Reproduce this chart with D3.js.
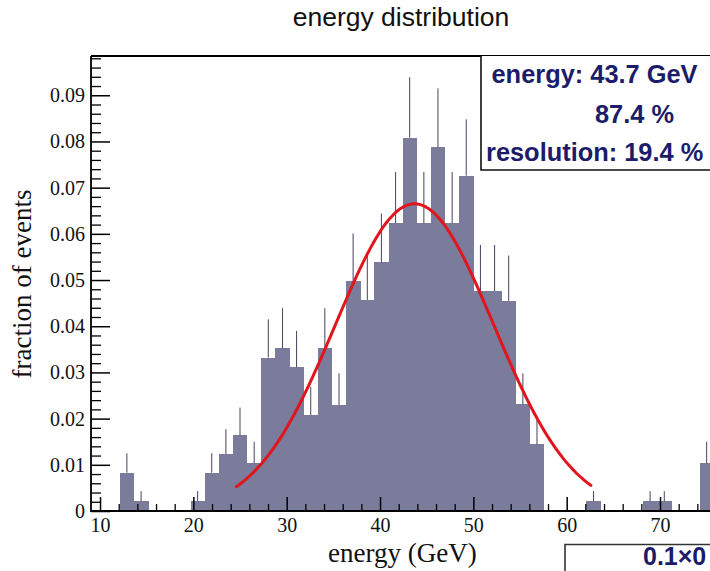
<!DOCTYPE html>
<html><head><meta charset="utf-8">
<script src="https://cdn.jsdelivr.net/npm/d3@7"></script>
<style>body{margin:0;background:#fff}svg{display:block}</style>
</head><body>
<svg id="c" width="710" height="571"></svg>
<script>
// ---- data ----
const binLow = [12.12, 13.64, 19.70, 21.21, 22.73, 24.24, 25.76, 27.27, 28.79, 30.30,
                31.82, 33.33, 34.85, 36.36, 37.88, 39.39, 40.91, 42.42, 43.94, 45.45,
                46.97, 48.48, 50.00, 51.52, 53.03, 54.55, 56.06, 62.12, 68.18, 69.70, 74.24];
const binWidth = 1.515;
const fraction = [0.0083, 0.0021, 0.0021, 0.0083, 0.0123, 0.0164, 0.0103, 0.0332, 0.0352, 0.0311,
                  0.0208, 0.0352, 0.0229, 0.0497, 0.0457, 0.0538, 0.0623, 0.0808, 0.0623, 0.0787,
                  0.0623, 0.0726, 0.0476, 0.0476, 0.0455, 0.0231, 0.0144, 0.0021, 0.0021, 0.0021, 0.0103];
const errUp = [0.0042, 0.0022, 0.0022, 0.0042, 0.0054, 0.0060, 0.0047, 0.0083, 0.0087, 0.0079,
               0.0061, 0.0087, 0.0069, 0.0104, 0.0095, 0.0106, 0.0111, 0.0131, 0.0111, 0.0128,
               0.0111, 0.0122, 0.0100, 0.0100, 0.0098, 0.0067, 0.0053, 0.0022, 0.0022, 0.0022, 0.0047];
const yTicks = [0, 0.01, 0.02, 0.03, 0.04, 0.05, 0.06, 0.07, 0.08, 0.09];
const xTicks = [10, 20, 30, 40, 50, 60, 70];
const fitMean = 43.7;        // GeV
const fitResolution = 0.194; // sigma / mean
const fitPeak = 0.0665;
const fitRange = [24.6, 62.7];
const statsLines = ["energy: 43.7 GeV", "87.4 %", "resolution: 19.4 %"];
const titleText = "energy distribution";
const xTitle = "energy (GeV)";
const yTitle = "fraction of events";
const cornerText = "0.1\u00d70";

// ---- drawing ----
const W = 710, H = 571;
const svg = d3.select("#c");
const pLeft = 91, pTop = 56, pBottom = 511;
const x = d3.scaleLinear().domain([9, 80]).range([90.7, 90.7 + 71 * 9.333]);
const y = d3.scaleLinear().domain([0, 0.0985]).range([pBottom, pTop]);

svg.append("defs").append("clipPath").attr("id", "plot")
  .append("rect").attr("x", pLeft).attr("y", pTop).attr("width", W - pLeft).attr("height", pBottom - pTop);

const g = svg.append("g").attr("clip-path", "url(#plot)");

const bars = binLow.map((lo, i) => ({lo, v: fraction[i], e: errUp[i]}));

g.selectAll("rect.bar").data(bars).join("rect")
  .attr("class", "bar")
  .attr("x", d => x(d.lo))
  .attr("width", d => x(d.lo + binWidth) - x(d.lo) + 0.4)
  .attr("y", d => y(d.v))
  .attr("height", d => y(0) - y(d.v))
  .attr("fill", "#7b7b9b")
  .attr("shape-rendering", "crispEdges");

g.selectAll("line.err").data(bars).join("line")
  .attr("class", "err")
  .attr("x1", d => x(d.lo + binWidth / 2)).attr("x2", d => x(d.lo + binWidth / 2))
  .attr("y1", d => y(d.v)).attr("y2", d => y(d.v + d.e))
  .attr("stroke", "#44445e").attr("stroke-width", 1);

// fit curve (Gaussian defined by the fitted parameters shown in the stats box)
const sigma = fitMean * fitResolution;
const fitPts = d3.range(fitRange[0], fitRange[1] + 0.001, 0.2)
  .map(e => [e, fitPeak * Math.exp(-((e - fitMean) ** 2) / (2 * sigma * sigma))]);
g.append("path").datum(fitPts)
  .attr("d", d3.line().x(d => x(d[0])).y(d => y(d[1])).curve(d3.curveBasis))
  .attr("fill", "none").attr("stroke", "#e2141c").attr("stroke-width", 3)
  .attr("stroke-linecap", "round");

// axes
const serif = "'Liberation Serif', 'Times New Roman', serif";
const sans = "'Liberation Sans', Arial, Helvetica, sans-serif";

const yMinor = d3.range(0, 0.0985, 0.002).filter(v => Math.abs(v * 100 - Math.round(v * 100)) > 1e-6);
svg.append("g").attr("transform", `translate(${pLeft},0)`)
  .call(d3.axisLeft(y).tickValues(yMinor).tickSizeInner(-10).tickSizeOuter(0).tickFormat(""))
  .call(a => a.select(".domain").remove())
  .call(a => a.selectAll("line").attr("stroke", "#000").attr("stroke-width", 1.3));
svg.append("g").attr("transform", `translate(${pLeft},0)`)
  .call(d3.axisLeft(y).tickValues(yTicks).tickSizeInner(-19).tickSizeOuter(0).tickPadding(6)
        .tickFormat(d => d === 0 ? "0" : d.toFixed(2)))
  .call(a => a.select(".domain").remove())
  .call(a => a.selectAll("line").attr("stroke", "#000").attr("stroke-width", 1.5))
  .call(a => a.selectAll("text").attr("font-family", serif).attr("font-size", 20).attr("fill", "#111"));

const xMinor = d3.range(10, 76, 2).filter(v => v % 10 !== 0);
svg.append("g").attr("transform", `translate(0,${pBottom})`)
  .call(d3.axisBottom(x).tickValues(xMinor).tickSizeInner(-7).tickSizeOuter(0).tickFormat(""))
  .call(a => a.select(".domain").remove())
  .call(a => a.selectAll("line").attr("stroke", "#000").attr("stroke-width", 1.3));
svg.append("g").attr("transform", `translate(0,${pBottom})`)
  .call(d3.axisBottom(x).tickValues(xTicks).tickSizeInner(-14).tickSizeOuter(0).tickPadding(7))
  .call(a => a.select(".domain").remove())
  .call(a => a.selectAll("line").attr("stroke", "#000").attr("stroke-width", 1.5))
  .call(a => a.selectAll("text").attr("font-family", serif).attr("font-size", 20).attr("fill", "#111"));

// frame lines
svg.append("path").attr("d", `M${pLeft},${pTop}H${W}M${pLeft},${pTop}V${pBottom}H${W}`)
  .attr("fill", "none").attr("stroke", "#000").attr("stroke-width", 1.8);

// titles
svg.append("text").attr("x", 401).attr("y", 26).attr("text-anchor", "middle")
  .attr("font-family", sans).attr("font-size", 26.5).attr("fill", "#111").text(titleText);
svg.append("text").attr("x", 328).attr("y", 562)
  .attr("font-family", serif).attr("font-size", 27).attr("fill", "#111").text(xTitle);
svg.append("text").attr("transform", "translate(31,284) rotate(-90)").attr("text-anchor", "middle")
  .attr("font-family", serif).attr("font-size", 27).attr("fill", "#111").text(yTitle);

// stats box
svg.append("rect").attr("x", 481).attr("y", pTop).attr("width", W - 481).attr("height", 114)
  .attr("fill", "#fff");
svg.append("path").attr("d", `M481,${pTop}V170H${W}`)
  .attr("fill", "none").attr("stroke", "#111").attr("stroke-width", 1.6);
const statsX = [491.5, 595, 486];
const statsY = [83, 122.5, 161];
svg.selectAll("text.stat").data(statsLines).join("text").attr("class", "stat")
  .attr("x", (d, i) => statsX[i]).attr("y", (d, i) => statsY[i])
  .attr("font-family", sans).attr("font-weight", "bold").attr("font-size", 25.4)
  .attr("fill", "#1c1c6a").text(d => d);

// bottom-right box
svg.append("path").attr("d", `M565,${H}V544.5H${W}`)
  .attr("fill", "none").attr("stroke", "#333").attr("stroke-width", 1.6);
svg.append("text").attr("x", 643).attr("y", 565)
  .attr("font-family", sans).attr("font-weight", "bold").attr("font-size", 25)
  .attr("fill", "#1c1c6a").text(cornerText);
</script>
</body></html>
